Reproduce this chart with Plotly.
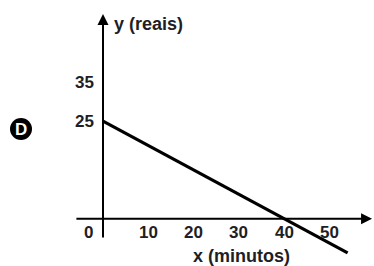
import plotly.graph_objects as go

# ---- data ----
line_x = [0, 40, 54]          # minutos
line_y = [25, 0, -8.75]       # reais
x_tick_values = [10, 20, 30, 40, 50]
x_tick_labels = ["10", "20", "30", "40", "50"]
y_tick_values = [25, 35]
y_tick_labels = ["25", "35"]
x_title = "x (minutos)"
y_title = "y (reais)"
option_letter = "D"

W, H = 374, 266
FONT = "Liberation Sans, Arial, sans-serif"
TXT = "#1e1e24"

fig = go.Figure()
fig.add_trace(go.Scatter(x=line_x, y=line_y, mode="lines",
                         line=dict(color="black", width=3.2),
                         hoverinfo="skip", showlegend=False, cliponaxis=False))

ann = []
# axes with arrowheads
ann.append(dict(x=59.4, y=0, ax=-6.2, ay=0, xref="x", yref="y", axref="x", ayref="y",
                text="", showarrow=True, arrowhead=2, arrowsize=1.1, arrowwidth=2,
                arrowcolor="black"))
ann.append(dict(x=0, y=52.5, ax=0, ay=-5.2, xref="x", yref="y", axref="x", ayref="y",
                text="", showarrow=True, arrowhead=2, arrowsize=1.1, arrowwidth=2,
                arrowcolor="black"))
# x tick labels
for v, t in zip(x_tick_values, x_tick_labels):
    ann.append(dict(x=v, y=0, xref="x", yref="y", text=f"<b>{t}</b>", showarrow=False,
                    yshift=-14, font=dict(family=FONT, size=17, color=TXT)))
ann.append(dict(x=0, y=0, xref="x", yref="y", text="<b>0</b>", showarrow=False,
                xshift=-15, yshift=-14, font=dict(family=FONT, size=17, color=TXT)))
# y tick labels
for v, t in zip(y_tick_values, y_tick_labels):
    ann.append(dict(x=0, y=v, xref="x", yref="y", text=f"<b>{t}</b>", showarrow=False,
                    xanchor="right", xshift=-7, font=dict(family=FONT, size=17, color=TXT)))
# axis titles
ann.append(dict(x=0, y=52.5, xref="x", yref="y", text=f"<b>{y_title}</b>", showarrow=False,
                xanchor="left", xshift=9, yshift=-10, font=dict(family=FONT, size=18, color=TXT)))
ann.append(dict(x=30.5, y=0, xref="x", yref="y", text=f"<b>{x_title}</b>", showarrow=False,
                yshift=-37, font=dict(family=FONT, size=18, color=TXT)))
# option letter
ann.append(dict(x=21 / W, y=1 - 129 / H, xref="paper", yref="paper", text=f"<b>{option_letter}</b>",
                xanchor="center", yanchor="middle",
                showarrow=False, font=dict(family=FONT, size=17, color="white")))

fig.update_layout(
    width=W, height=H, margin=dict(l=0, r=0, t=0, b=0),
    paper_bgcolor="white", plot_bgcolor="white",
    xaxis=dict(range=[-103 / 4.53, (W - 103) / 4.53], visible=False, fixedrange=True),
    yaxis=dict(range=[(218.7 - H) / 3.9, 218.7 / 3.9], visible=False, fixedrange=True),
    annotations=ann,
    shapes=[dict(type="circle", xref="paper", yref="paper",
                 xsizemode="pixel", ysizemode="pixel",
                 xanchor=21 / W, yanchor=1 - 129 / H,
                 x0=-11, x1=11, y0=-11, y1=11,
                 fillcolor="black", line=dict(color="black", width=0), layer="below")],
    showlegend=False,
)
fig.write_html("out.html", config={"displayModeBar": False},
               post_script="document.body.style.margin='0';document.body.style.overflow='hidden';")
